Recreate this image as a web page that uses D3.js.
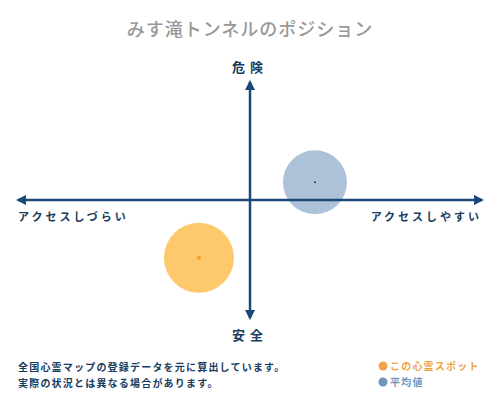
<!DOCTYPE html>
<html lang="ja">
<head>
<meta charset="UTF-8">
<title>みす滝トンネルのポジション</title>
<script src="https://d3js.org/d3.v7.min.js"></script>
<style>
  body { margin: 0; background: #fff; }
  text { font-family: "Noto Sans CJK JP", "Noto Sans", sans-serif; }
</style>
</head>
<body>
<script>
    // positions on a -1..1 grid: x = access (hard -> easy), y = safe -> dangerous
    const names = ["この心霊スポット", "平均値"];
    const xValues = [-0.22, 0.28];
    const yValues = [-0.49, 0.15];
    const colors = ["#fdc96c", "#adc1d9"];
    const dotColors = ["#f0a030", "#333333"];
    const legendColors = ["#efa445", "#6d95bd"];
    const notes = ["全国心霊マップの登録データを元に算出しています。", "実際の状況とは異なる場合があります。"];

    const width = 500;
    const height = 400;
    const axisColor = "#1b4a78";
    const textColor = "#173c60";

    const svg = d3.select("body").append("svg")
        .attr("width", width)
        .attr("height", height);

    const xScale = d3.scaleLinear().domain([-1, 1]).range([18, 482]);
    const yScale = d3.scaleLinear().domain([-1, 1]).range([318, 82]);

    const defs = svg.append("defs");
    defs.append("marker")
        .attr("id", "arrow")
        .attr("viewBox", "0 0 10 10")
        .attr("refX", 8).attr("refY", 5)
        .attr("markerWidth", 4.2).attr("markerHeight", 4.2)
        .attr("orient", "auto-start-reverse")
        .append("path")
        .attr("d", "M0,0 L10,5 L0,10 z")
        .attr("fill", axisColor);

    // title
    svg.append("text")
        .attr("x", width / 2).attr("y", 36)
        .attr("text-anchor", "middle")
        .attr("font-size", 18)
        .attr("font-weight", 500)
        .attr("letter-spacing", 1)
        .attr("fill", "#999")
        .text("みす滝トンネルのポジション");

    // bubbles
    svg.selectAll("circle.bubble")
        .data(names)
        .join("circle")
        .attr("class", "bubble")
        .attr("cx", (d, i) => xScale(xValues[i]))
        .attr("cy", (d, i) => yScale(yValues[i]))
        .attr("r", (d, i) => i === 0 ? 35 : 32)
        .attr("fill", (d, i) => colors[i]);

    // axes
    svg.append("line")
        .attr("x1", xScale(-1)).attr("x2", xScale(1))
        .attr("y1", yScale(0)).attr("y2", yScale(0))
        .attr("stroke", axisColor).attr("stroke-width", 2.5)
        .attr("marker-start", "url(#arrow)")
        .attr("marker-end", "url(#arrow)");
    svg.append("line")
        .attr("x1", xScale(0)).attr("x2", xScale(0))
        .attr("y1", yScale(-1)).attr("y2", yScale(1))
        .attr("stroke", axisColor).attr("stroke-width", 2.5)
        .attr("marker-start", "url(#arrow)")
        .attr("marker-end", "url(#arrow)");

    // center dots
    svg.selectAll("circle.dot")
        .data(names)
        .join("circle")
        .attr("class", "dot")
        .attr("cx", (d, i) => xScale(xValues[i]))
        .attr("cy", (d, i) => yScale(yValues[i]))
        .attr("r", (d, i) => i === 0 ? 2 : 1)
        .attr("fill", (d, i) => dotColors[i]);

    // axis labels
    const label = (x, y, anchor, txt, size, spacing) => svg.append("text")
        .attr("x", x).attr("y", y)
        .attr("text-anchor", anchor)
        .attr("font-size", size)
        .attr("font-weight", "bold")
        .attr("letter-spacing", spacing)
        .attr("fill", textColor)
        .text(txt);

    label(250, 72, "middle", "危険", 13, 5);
    label(250, 340, "middle", "安全", 13, 5);
    label(18, 221, "start", "アクセスしづらい", 11, 3);
    label(482, 221, "end", "アクセスしやすい", 11, 3);

    // footer notes
    svg.selectAll("text.note")
        .data(notes)
        .join("text")
        .attr("class", "note")
        .attr("x", 18)
        .attr("y", (d, i) => 371 + i * 16)
        .attr("font-size", 10)
        .attr("font-weight", "bold")
        .attr("letter-spacing", 1.2)
        .attr("fill", textColor)
        .text(d => d);

    // legend
    const legend = svg.selectAll("g.legend")
        .data(names)
        .join("g")
        .attr("class", "legend")
        .attr("transform", (d, i) => `translate(383, ${366 + i * 16})`);
    legend.append("circle")
        .attr("r", 4.5)
        .attr("fill", (d, i) => legendColors[i]);
    legend.append("text")
        .attr("x", 7).attr("y", 4)
        .attr("font-size", 10)
        .attr("font-weight", "bold")
        .attr("letter-spacing", 1.2)
        .attr("fill", (d, i) => legendColors[i])
        .text(d => d);
</script>
</body>
</html>
